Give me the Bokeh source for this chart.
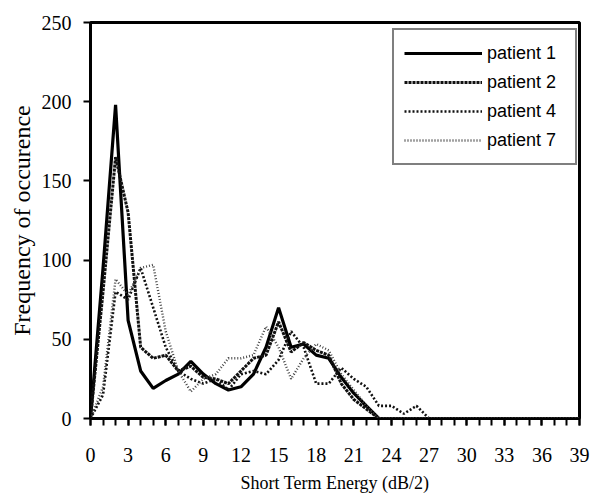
from bokeh.plotting import figure
from bokeh.models import SingleIntervalTicker, Legend, LegendItem, Range1d
from bokeh.embed import file_html
from bokeh.resources import INLINE

energy = list(range(0, 40))
patient_1 = [0, 95, 198, 62, 30, 19, 24, 28, 36, 28, 22, 18, 20, 28, 45, 70, 45, 47, 40, 38, 26, 16, 8, 0] + [0] * 16
patient_2 = [0, 80, 165, 130, 45, 38, 40, 30, 33, 26, 25, 22, 30, 38, 40, 61, 42, 48, 43, 40, 22, 12, 6, 0] + [0] * 16
patient_4 = [0, 15, 80, 75, 95, 70, 45, 30, 25, 22, 25, 18, 28, 30, 28, 37, 55, 45, 22, 22, 32, 25, 20, 8, 8, 3, 8, 0] + [0] * 12
patient_7 = [0, 20, 88, 78, 95, 97, 55, 30, 17, 25, 28, 38, 38, 40, 58, 45, 25, 38, 47, 43, 28, 18, 8, 0] + [0] * 16
series_names = ["patient 1", "patient 2", "patient 4", "patient 7"]

p = figure(width=592, height=497, output_backend="svg", toolbar_location=None,
           x_range=Range1d(0, 39), y_range=Range1d(0, 250),
           min_border_left=90, min_border_right=13, min_border_top=22, min_border_bottom=79)
p.grid.visible = False
p.outline_line_color = "black"
p.outline_line_width = 3

styles = [
    dict(line_color="black", line_width=3.2, line_dash="solid"),
    dict(line_color="#111111", line_width=3, line_dash="3 1"),
    dict(line_color="#111111", line_width=2.6, line_dash="2 2"),
    dict(line_color="#444444", line_width=2.4, line_dash="1 2"),
]
renderers = []
for ys, st in zip([patient_1, patient_2, patient_4, patient_7], styles):
    r = p.line(energy, ys, **st)
    renderers.append(r)

p.xaxis.ticker = SingleIntervalTicker(interval=3, num_minor_ticks=3)
p.yaxis.ticker = SingleIntervalTicker(interval=50, num_minor_ticks=0)
p.xaxis.axis_label = "Short Term Energy (dB/2)"
p.yaxis.axis_label = "Frequency of occurence"

p.axis.major_tick_out = 7
p.axis.minor_tick_out = 7
p.axis.major_tick_in = 0
p.axis.major_tick_line_width = 2
p.axis.minor_tick_line_width = 2
p.axis.major_label_text_font = "Liberation Serif"
p.axis.major_label_text_font_size = "20px"
p.axis.major_label_text_color = "black"
p.axis.axis_label_text_font = "Liberation Serif"
p.axis.axis_label_text_font_style = "normal"
p.axis.axis_label_text_color = "black"
p.xaxis.major_label_standoff = 22
p.xaxis.axis_label_text_font_size = "18px"
p.xaxis.axis_label_standoff = 8
p.yaxis.major_label_standoff = 12
p.yaxis.axis_label_text_font_size = "24px"
p.yaxis.axis_label_standoff = 4

legend = Legend(items=[LegendItem(label=n, renderers=[r]) for n, r in zip(series_names, renderers)],
                location=(302, 253))
legend.border_line_color = "black"
legend.border_line_width = 2.5
legend.background_fill_alpha = 1
legend.label_text_font = "Liberation Sans"
legend.label_text_font_size = "18px"
legend.label_text_color = "black"
legend.glyph_width = 78
legend.glyph_height = 26
legend.label_height = 26
legend.label_width = 78
legend.padding = 10
legend.spacing = 3
legend.margin = 0
legend.label_standoff = 5
p.add_layout(legend, "center")

open("out.html", "w").write(file_html(p, INLINE))
